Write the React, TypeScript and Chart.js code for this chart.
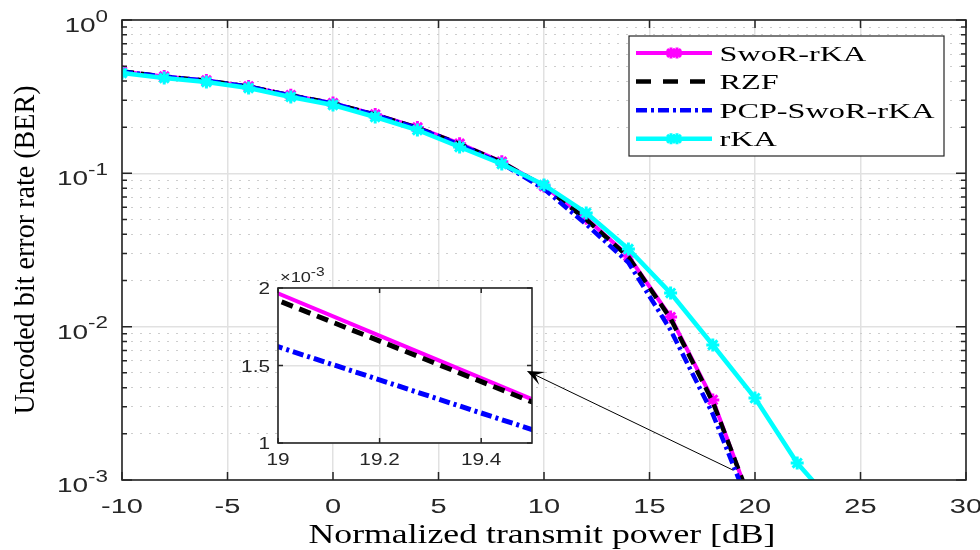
import React, { useEffect, useRef } from 'react';
import { Chart, registerables } from 'chart.js';

Chart.register(...registerables);

// ---------------- data ----------------
const SNR_DB = [-10, -8, -6, -4, -2, 0, 2, 4, 6, 8, 10, 12, 14, 16, 18, 20];
const SNR_DB_RKA = [-10, -8, -6, -4, -2, 0, 2, 4, 6, 8, 10, 12, 14, 16, 18, 20, 22, 24];

const BER_SWOR_RKA = [0.462, 0.428, 0.403, 0.369, 0.323, 0.287, 0.242, 0.199, 0.156, 0.119, 0.0826, 0.051, 0.0289, 0.01155, 0.00333, 0.0006];
const BER_RZF = [0.462, 0.428, 0.402, 0.368, 0.322, 0.286, 0.241, 0.198, 0.155, 0.118, 0.0822, 0.05, 0.0285, 0.0113, 0.00323, 0.00061];
const BER_PCP_SWOR_RKA = [0.46, 0.427, 0.401, 0.367, 0.321, 0.285, 0.24, 0.197, 0.154, 0.116, 0.079, 0.0465, 0.0262, 0.0095, 0.00269, 0.000552];
const BER_RKA = [0.451, 0.418, 0.394, 0.36, 0.315, 0.279, 0.233, 0.1916, 0.1485, 0.115, 0.084, 0.0552, 0.0321, 0.01656, 0.00759, 0.00342, 0.00129, 0.00063];

const SERIES_LABELS = ['SwoR-rKA', 'RZF', 'PCP-SwoR-rKA', 'rKA'];

const X_TICKS = [-10, -5, 0, 5, 10, 15, 20, 25, 30];
const X_TICK_LABELS = ['-10', '-5', '0', '5', '10', '15', '20', '25', '30'];
const Y_DECADES = [1, 0.1, 0.01, 0.001];
const Y_DECADE_EXPONENTS = ['0', '-1', '-2', '-3'];
const Y_MINOR_MANTISSAS = [2, 3, 4, 5, 6, 7, 8, 9];

const INSET_X_TICKS = [19, 19.2, 19.4];
const INSET_X_LABELS = ['19', '19.2', '19.4'];
const INSET_Y_TICKS = [1, 1.5, 2];
const INSET_Y_LABELS = ['1', '1.5', '2'];
const INSET_SCALE_BASE = '\u00d710';
const INSET_SCALE_EXP = '-3';
const INSET_FACTOR = 1000;

const X_TITLE = 'Normalized transmit power [dB]';
const Y_TITLE = 'Uncoded bit error rate (BER)';

const ARROW_FROM = { x: 18.96, y: 0.00116 };
const ARROW_TO = { x: 9.19, y: 0.00514 };

// ---------------- styles ----------------
const STYLES = [
  { color: '#ff00ff', width: 4, dash: [] as number[], legendDash: [] as number[], marker: true, order: 3, insetWidth: 4 },
  { color: '#000000', width: 4.5, dash: [12, 7], legendDash: [15, 12], marker: false, order: 2, insetWidth: 5 },
  { color: '#0000ff', width: 4.5, dash: [11, 4, 3, 4], legendDash: [11, 4, 3, 4], marker: false, order: 1, insetWidth: 5 },
  { color: '#00ffff', width: 4.5, dash: [] as number[], legendDash: [] as number[], marker: true, order: 0, insetWidth: 4 },
];

const SANS = '"Liberation Sans", Arial, sans-serif';
const SERIF = '"Liberation Serif", "Times New Roman", serif';
const AXIS_COLOR = '#262626';

function drawText(
  ctx: CanvasRenderingContext2D, text: string, x: number, y: number,
  font: string, sx: number, align: 'left' | 'center' | 'right', color = AXIS_COLOR,
) {
  ctx.save();
  ctx.font = font;
  ctx.fillStyle = color;
  ctx.textBaseline = 'alphabetic';
  ctx.textAlign = 'left';
  const w = ctx.measureText(text).width * sx;
  const left = align === 'left' ? x : align === 'center' ? x - w / 2 : x - w;
  ctx.translate(left, y);
  ctx.scale(sx, 1);
  ctx.fillText(text, 0, 0);
  ctx.restore();
  return w;
}

function textWidth(ctx: CanvasRenderingContext2D, text: string, font: string) {
  ctx.save();
  ctx.font = font;
  const w = ctx.measureText(text).width;
  ctx.restore();
  return w;
}

function drawPower(
  ctx: CanvasRenderingContext2D, base: string, exp: string, x: number, y: number,
  baseFont: string, expFont: string, sx: number, align: 'left' | 'right', raise: number,
) {
  const bw = textWidth(ctx, base, baseFont) * sx;
  const ew = textWidth(ctx, exp, expFont) * sx;
  const left = align === 'left' ? x : x - bw - ew;
  drawText(ctx, base, left, y, baseFont, sx, 'left');
  drawText(ctx, exp, left + bw, y - raise, expFont, sx, 'left');
}

function drawStar(ctx: CanvasRenderingContext2D, x: number, y: number, r: number, color: string, lw: number) {
  ctx.save();
  ctx.strokeStyle = color;
  ctx.lineWidth = lw;
  ctx.setLineDash([]);
  ctx.beginPath();
  ctx.moveTo(x - r, y); ctx.lineTo(x + r, y);
  ctx.moveTo(x, y - r); ctx.lineTo(x, y + r);
  const d = r * Math.SQRT1_2;
  ctx.moveTo(x - d, y - d); ctx.lineTo(x + d, y + d);
  ctx.moveTo(x - d, y + d); ctx.lineTo(x + d, y - d);
  ctx.stroke();
  ctx.restore();
}

const isDecade = (v: number) => Math.abs(Math.log10(v) - Math.round(Math.log10(v))) < 1e-9;

function yTickValues() {
  const vals: number[] = [];
  Y_DECADES.forEach((d) => {
    vals.push(d);
    if (d < 1) Y_MINOR_MANTISSAS.forEach((m) => vals.push(m * d));
  });
  return vals.sort((a, b) => a - b);
}

const SERIES_X = [SNR_DB, SNR_DB, SNR_DB, SNR_DB_RKA];
const SERIES_Y = [BER_SWOR_RKA, BER_RZF, BER_PCP_SWOR_RKA, BER_RKA];

export default function App() {
  const mainRef = useRef<HTMLCanvasElement>(null);
  const insetRef = useRef<HTMLCanvasElement>(null);

  useEffect(() => {
    if (!mainRef.current || !insetRef.current) return;

    const mainDecor = {
      id: 'mainDecor',
      afterDatasetsDraw(chart: any) {
        const ctx: CanvasRenderingContext2D = chart.ctx;
        const { left, right, top, bottom } = chart.chartArea;
        const xs = chart.scales.x;
        const ys = chart.scales.y;

        // ticks (inward)
        ctx.save();
        ctx.strokeStyle = AXIS_COLOR;
        ctx.lineWidth = 1.5;
        ctx.setLineDash([]);
        ctx.beginPath();
        X_TICKS.forEach((v) => {
          const px = xs.getPixelForValue(v);
          ctx.moveTo(px, bottom); ctx.lineTo(px, bottom - 8);
          ctx.moveTo(px, top); ctx.lineTo(px, top + 8);
        });
        yTickValues().forEach((v) => {
          const py = ys.getPixelForValue(v);
          const len = isDecade(v) ? 10 : 5;
          ctx.moveTo(left, py); ctx.lineTo(left + len, py);
          ctx.moveTo(right, py); ctx.lineTo(right - len, py);
        });
        ctx.stroke();
        // box
        ctx.lineWidth = 1.6;
        ctx.strokeRect(left, top, right - left, bottom - top);
        ctx.restore();

        // x tick labels
        X_TICKS.forEach((v, i) => {
          drawText(ctx, X_TICK_LABELS[i], xs.getPixelForValue(v), bottom + 33, `20px ${SANS}`, 1.45, 'center');
        });
        // y tick labels
        Y_DECADES.forEach((v, i) => {
          const py = ys.getPixelForValue(v);
          drawPower(ctx, '10', Y_DECADE_EXPONENTS[i], left - 14, py + 12, `20px ${SANS}`, `16px ${SANS}`, 1.4, 'right', 10.5);
        });

        // x title
        const xFont = `27px ${SERIF}`;
        const xsx = 467 / textWidth(ctx, X_TITLE, xFont);
        drawText(ctx, X_TITLE, (left + right) / 2 - 2, bottom + 63, xFont, xsx, 'center', '#000');

        // y title
        const yFont = `27px ${SERIF}`;
        const yw = textWidth(ctx, Y_TITLE, yFont);
        ctx.save();
        ctx.translate(34, (top + bottom) / 2);
        ctx.rotate(-Math.PI / 2);
        ctx.scale(329 / yw, 1.06);
        ctx.font = yFont;
        ctx.fillStyle = '#000';
        ctx.textBaseline = 'alphabetic';
        ctx.textAlign = 'center';
        ctx.fillText(Y_TITLE, 0, 0);
        ctx.restore();

        // legend
        const lgRight = right - 22;
        const lgLeft = lgRight - 315;
        const lgTop = top + 16;
        const lgH = 120;
        ctx.save();
        ctx.fillStyle = '#ffffff';
        ctx.fillRect(lgLeft, lgTop, lgRight - lgLeft, lgH);
        ctx.strokeStyle = AXIS_COLOR;
        ctx.lineWidth = 1.2;
        ctx.strokeRect(lgLeft, lgTop, lgRight - lgLeft, lgH);
        ctx.restore();
        const lgFont = `22px ${SERIF}`;
        const lgSx = 215 / textWidth(ctx, SERIES_LABELS[2], lgFont);
        SERIES_LABELS.forEach((label, i) => {
          const st = STYLES[i];
          const ly = lgTop + 17 + i * 28.6;
          ctx.save();
          ctx.strokeStyle = st.color;
          ctx.lineWidth = st.width;
          ctx.setLineDash(st.legendDash);
          ctx.beginPath();
          ctx.moveTo(lgLeft + 7, ly);
          ctx.lineTo(lgLeft + 83, ly);
          ctx.stroke();
          ctx.restore();
          if (st.marker) {
            drawStar(ctx, lgLeft + 42, ly, 5.5, st.color, 3);
            drawStar(ctx, lgLeft + 48, ly, 5.5, st.color, 3);
          }
          drawText(ctx, label, lgLeft + 90.5, ly + 7.5, lgFont, lgSx, 'left', '#000');
        });
      },
    };

    const main = new Chart(mainRef.current, {
      type: 'line',
      data: {
        datasets: SERIES_LABELS.map((label, i) => ({
          label,
          data: SERIES_X[i].map((x, j) => ({ x, y: SERIES_Y[i][j] })),
          borderColor: STYLES[i].color,
          backgroundColor: STYLES[i].color,
          borderWidth: STYLES[i].width,
          borderDash: STYLES[i].dash,
          pointStyle: 'star',
          pointRadius: STYLES[i].marker ? 6.5 : 0,
          pointBorderWidth: 3,
          pointBorderColor: STYLES[i].color,
          pointBackgroundColor: STYLES[i].color,
          tension: 0,
          fill: false,
          order: STYLES[i].order,
        })),
      },
      options: {
        animation: false,
        responsive: false,
        events: [],
        layout: { padding: { left: 0, top: 20, right: 14, bottom: 0 } },
        plugins: { legend: { display: false }, tooltip: { enabled: false }, title: { display: false } },
        scales: {
          x: {
            type: 'linear',
            min: -10,
            max: 30,
            afterBuildTicks: (s: any) => { s.ticks = X_TICKS.map((value) => ({ value })); },
            afterFit: (s: any) => { s.height = 70; },
            ticks: { display: false },
            grid: { color: '#e1e1e1', lineWidth: 1.5, drawTicks: false },
            border: { display: false },
          },
          y: {
            type: 'logarithmic',
            min: 0.001,
            max: 1,
            afterBuildTicks: (s: any) => { s.ticks = yTickValues().map((value) => ({ value })); },
            afterFit: (s: any) => { s.width = 122; },
            ticks: { display: false },
            grid: {
              color: (c: any) => (c.tick && isDecade(c.tick.value) ? '#e1e1e1' : '#cdcdcd'),
              lineWidth: (c: any) => (c.tick && isDecade(c.tick.value) ? 1.5 : 1),
              drawTicks: false,
            },
            border: {
              display: false,
              dash: (c: any) => (c.tick && isDecade(c.tick.value) ? [] : [2, 7]),
            },
          },
        },
      } as any,
      plugins: [mainDecor],
    });

    const insetDecor = {
      id: 'insetDecor',
      beforeDraw(chart: any) {
        const ctx: CanvasRenderingContext2D = chart.ctx;
        const { left, right, top, bottom } = chart.chartArea;
        ctx.save();
        ctx.fillStyle = '#ffffff';
        ctx.fillRect(left, top, right - left, bottom - top);
        ctx.restore();
      },
      afterDraw(chart: any) {
        const ctx: CanvasRenderingContext2D = chart.ctx;
        const { left, right, top, bottom } = chart.chartArea;
        const xs = chart.scales.x;
        const ys = chart.scales.y;
        ctx.save();
        ctx.strokeStyle = AXIS_COLOR;
        ctx.lineWidth = 1.5;
        ctx.setLineDash([]);
        ctx.beginPath();
        INSET_X_TICKS.forEach((v) => {
          const px = xs.getPixelForValue(v);
          ctx.moveTo(px, bottom); ctx.lineTo(px, bottom - 5);
          ctx.moveTo(px, top); ctx.lineTo(px, top + 5);
        });
        INSET_Y_TICKS.forEach((v) => {
          const py = ys.getPixelForValue(v);
          ctx.moveTo(left, py); ctx.lineTo(left + 5, py);
          ctx.moveTo(right, py); ctx.lineTo(right - 5, py);
        });
        ctx.stroke();
        ctx.lineWidth = 1.6;
        ctx.strokeRect(left, top, right - left, bottom - top);
        ctx.restore();

        INSET_X_TICKS.forEach((v, i) => {
          drawText(ctx, INSET_X_LABELS[i], xs.getPixelForValue(v), bottom + 22, `16px ${SANS}`, 1.3, 'center');
        });
        INSET_Y_TICKS.forEach((v, i) => {
          drawText(ctx, INSET_Y_LABELS[i], left - 8, ys.getPixelForValue(v) + 6, `16px ${SANS}`, 1.3, 'right');
        });
        drawPower(ctx, INSET_SCALE_BASE, INSET_SCALE_EXP, left + 2, top - 6, `14px ${SANS}`, `12px ${SANS}`, 1.3, 'left', 6);

        // arrow, in main-chart data coordinates
        const mx = main.scales.x as any;
        const my = main.scales.y as any;
        const x0 = mx.getPixelForValue(ARROW_FROM.x);
        const y0 = my.getPixelForValue(ARROW_FROM.y);
        const x1 = mx.getPixelForValue(ARROW_TO.x);
        const y1 = my.getPixelForValue(ARROW_TO.y);
        const ang = Math.atan2(y1 - y0, x1 - x0);
        const L = 17;
        const W = 7;
        ctx.save();
        ctx.strokeStyle = '#000';
        ctx.fillStyle = '#000';
        ctx.lineWidth = 1;
        ctx.beginPath();
        ctx.moveTo(x0, y0);
        ctx.lineTo(x1 - Math.cos(ang) * 8, y1 - Math.sin(ang) * 8);
        ctx.stroke();
        const bx = x1 - Math.cos(ang) * L;
        const by = y1 - Math.sin(ang) * L;
        const nx = -Math.sin(ang);
        const ny = Math.cos(ang);
        const mxp = x1 - Math.cos(ang) * L * 0.55;
        const myp = y1 - Math.sin(ang) * L * 0.55;
        ctx.beginPath();
        ctx.moveTo(x1, y1);
        ctx.lineTo(bx + nx * W, by + ny * W);
        ctx.lineTo(mxp, myp);
        ctx.lineTo(bx - nx * W, by - ny * W);
        ctx.closePath();
        ctx.fill();
        ctx.restore();
      },
    };

    const inset = new Chart(insetRef.current, {
      type: 'line',
      data: {
        datasets: SERIES_LABELS.map((label, i) => ({
          label,
          data: SERIES_X[i].map((x, j) => ({ x, y: SERIES_Y[i][j] * INSET_FACTOR })),
          borderColor: STYLES[i].color,
          borderWidth: STYLES[i].insetWidth,
          borderDash: STYLES[i].dash,
          pointRadius: 0,
          tension: 0,
          fill: false,
          order: STYLES[i].order,
        })),
      },
      options: {
        animation: false,
        responsive: false,
        events: [],
        layout: { padding: { left: 230, top: 288, right: 448, bottom: 73 } },
        plugins: { legend: { display: false }, tooltip: { enabled: false }, title: { display: false } },
        scales: {
          x: {
            type: 'linear',
            min: 19,
            max: 19.5,
            afterBuildTicks: (s: any) => { s.ticks = INSET_X_TICKS.map((value) => ({ value })); },
            afterFit: (s: any) => { s.height = 34; },
            ticks: { display: false },
            grid: { color: '#e1e1e1', lineWidth: 1.5, drawTicks: false },
            border: { display: false },
          },
          y: {
            type: 'linear',
            min: 1,
            max: 2,
            afterBuildTicks: (s: any) => { s.ticks = INSET_Y_TICKS.map((value) => ({ value })); },
            afterFit: (s: any) => { s.width = 48; },
            ticks: { display: false },
            grid: { color: '#e1e1e1', lineWidth: 1.5, drawTicks: false },
            border: { display: false },
          },
        },
      } as any,
      plugins: [insetDecor],
    });

    return () => {
      inset.destroy();
      main.destroy();
    };
  }, []);

  return (
    <div style={{ position: 'fixed', left: 0, top: 0, width: 980, height: 550, background: '#ffffff' }}>
      <canvas ref={mainRef} width={980} height={550} style={{ position: 'absolute', left: 0, top: 0 }} />
      <canvas ref={insetRef} width={980} height={550} style={{ position: 'absolute', left: 0, top: 0 }} />
    </div>
  );
}
